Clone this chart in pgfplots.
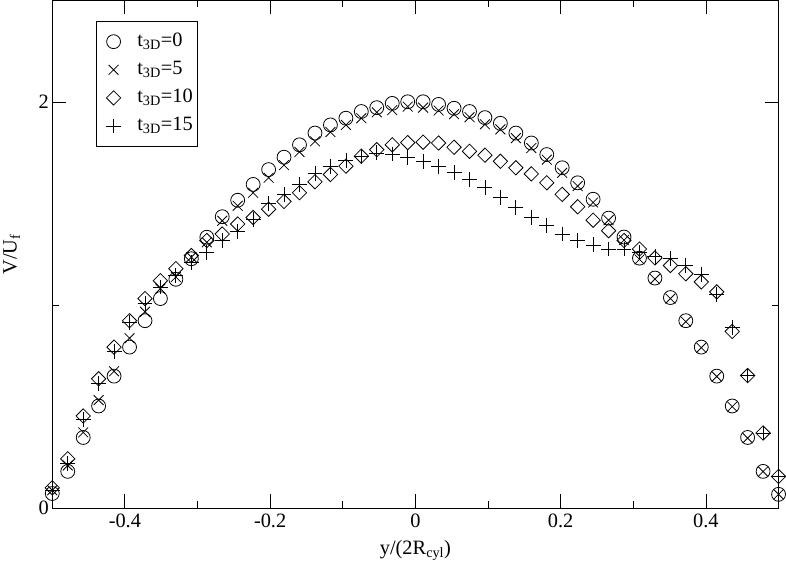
\documentclass[border=0pt]{standalone}
\usepackage{pgfplots}
\usepackage{pgfplotstable}
\pgfplotsset{compat=1.18}
\usepackage{fontspec}
\setmainfont{Liberation Serif}
\newfontfamily\tms{Liberation Serif}
\newcommand\fnt{\tms\fontsize{20.5}{24}\selectfont}

\pgfplotstableread{
x c cx d p
-0.5000 0.072 0.088 0.100 0.088
-0.4787 0.181 0.210 0.243 0.218
-0.4574 0.348 0.373 0.454 0.438
-0.4362 0.503 0.532 0.637 0.614
-0.4149 0.650 0.674 0.793 0.772
-0.3936 0.793 0.837 0.923 0.913
-0.3723 0.923 0.967 1.032 1.008
-0.3511 1.032 1.081 1.120 1.089
-0.3298 1.127 1.138 1.179 1.147
-0.3085 1.228 1.236 1.244 1.211
-0.2872 1.334 1.309 1.318 1.260
-0.2660 1.435 1.415 1.350 1.318
-0.2447 1.516 1.489 1.399 1.363
-0.2234 1.594 1.553 1.431 1.423
-0.2021 1.667 1.627 1.472 1.500
-0.1809 1.728 1.689 1.510 1.545
-0.1596 1.789 1.754 1.553 1.594
-0.1383 1.847 1.806 1.607 1.646
-0.1170 1.887 1.852 1.643 1.684
-0.0957 1.920 1.887 1.684 1.711
-0.0745 1.953 1.920 1.733 1.733
-0.0532 1.972 1.949 1.765 1.749
-0.0319 1.993 1.960 1.789 1.744
-0.0106 2.001 1.977 1.800 1.727
0.0106 2.001 1.972 1.802 1.708
0.0319 1.988 1.958 1.798 1.684
0.0532 1.969 1.940 1.777 1.651
0.0745 1.953 1.925 1.757 1.618
0.0957 1.923 1.890 1.738 1.578
0.1170 1.895 1.865 1.708 1.529
0.1383 1.847 1.822 1.676 1.480
0.1596 1.798 1.773 1.646 1.431
0.1809 1.741 1.716 1.602 1.391
0.2021 1.676 1.651 1.545 1.350
0.2234 1.602 1.586 1.484 1.318
0.2447 1.521 1.505 1.418 1.296
0.2660 1.428 1.418 1.366 1.276
0.2872 1.335 1.320 1.318 1.276
0.3085 1.231 1.225 1.276 1.260
0.3298 1.133 1.128 1.232 1.239
0.3511 1.037 1.032 1.195 1.228
0.3723 0.923 0.918 1.154 1.195
0.3936 0.793 0.790 1.114 1.151
0.4149 0.650 0.648 1.065 1.054
0.4362 0.503 0.500 0.870 0.891
0.4574 0.348 0.345 0.653 0.653
0.4787 0.181 0.180 0.370 0.370
0.5000 0.068 0.068 0.156 0.156
}\data

\begin{document}
\begin{tikzpicture}
\begin{axis}[
  scale only axis,
  width=731pt, height=511pt,
  xmin=-0.5, xmax=0.5, ymin=0, ymax=2.5,
  xtick={-0.4,-0.2,0,0.2,0.4},
  minor xtick={-0.3,-0.1,0.1,0.3},
  ytick={0,2}, minor ytick={1},
  tick align=inside,
  major tick length=14pt, minor tick length=7pt,
  every tick/.style={black, line width=0.8pt},
  axis line style={line width=0.9pt},
  /pgf/number format/assume math mode=true,
  /pgf/number format/fixed,
  tick label style={font=\fnt},
  xticklabel style={yshift=-2pt},
  label style={font=\fnt},
  xlabel={y/(2R\textsubscript{cyl})},
  ylabel={V/U\textsubscript{f}},
  xlabel style={yshift=-6pt},
  ylabel style={yshift=12pt},
  legend style={at={(0.060,0.959)}, anchor=north west,
    font=\fnt, draw=black, line width=0.8pt,
    inner xsep=0pt, inner ysep=6pt, row sep=0pt,
    nodes={inner xsep=5pt, inner ysep=0pt, text height=15pt, text depth=6pt, minimum height=28.3pt}},
  legend image code/.code={%
    \path (0cm,0cm) (1.25cm,0cm);
    \draw[mark repeat=2,mark phase=2] plot coordinates {(0cm,0cm)(0.6cm,0cm)(1.2cm,0cm)};},
  legend cell align=left,
  every axis plot/.append style={only marks, black, line width=0.8pt},
]
\addplot[mark=o, mark size=7pt] table[x=x,y=c]{\data};
\addlegendentry{t\textsubscript{3D}=0}
\addplot[mark=x, mark size=7pt] table[x=x,y=cx]{\data};
\addlegendentry{t\textsubscript{3D}=5}
\addplot[mark=square, mark size=5.1pt, mark options={rotate=45}] table[x=x,y=d]{\data};
\addlegendentry{t\textsubscript{3D}=10}
\addplot[mark=+, mark size=7.5pt] table[x=x,y=p]{\data};
\addlegendentry{t\textsubscript{3D}=15}
\end{axis}
\end{tikzpicture}
\end{document}
